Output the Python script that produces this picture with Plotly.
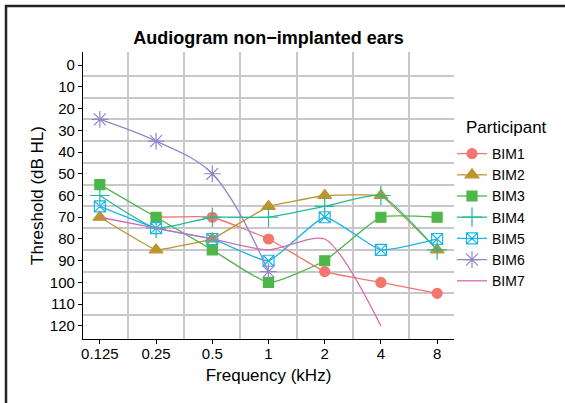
import math
import plotly.graph_objects as go

freqs = [0.125, 0.25, 0.5, 1, 2, 4, 8]
freq_labels = ["0.125", "0.25", "0.5", "1", "2", "4", "8"]
participants = ["BIM1", "BIM2", "BIM3", "BIM4", "BIM5", "BIM6", "BIM7"]

bim1 = [None, 70, 70, 80, 95, 100, 105]
bim2 = [70, 85, 80, 65, 60, 60, 85]
bim3 = [55, 70, 85, 100, 90, 70, 70]
bim4 = [60, 75, 70, 70, 65, 60, 85]
bim5 = [65, 75, 80, 90, 70, 85, 80]
bim6 = [25, 35, 50, 95, None, None, None]
bim7 = [70, 75, 80, 85, 80, 120, None]
series = [bim1, bim2, bim3, bim4, bim5, bim6, bim7]

y_ticks = list(range(0, 121, 10))
y_minor = list(range(5, 116, 10))

colors = ["#F3766E", "#BC962C", "#4DB748", "#22B99A", "#1DB5EA", "#9186C8", "#D06CB6"]
symbols = ["circle", "triangle-up", "square", "cross-thin-open", "square-x-open", "asterisk-open", None]
sizes = [10, 12, 10, 14, 11, 14, 0]
smooth = [0.3, 0.2, 0.45, 0.45, 0.45, 1.0, 0.7]

FONT = "Liberation Sans, Arial, Helvetica, sans-serif"

fig = go.Figure()
for name, ys, c, sym, sz, sm in zip(participants, series, colors, symbols, sizes, smooth):
    if sym is None:
        fig.add_trace(go.Scatter(x=freqs, y=ys, name=name, mode="lines",
                                 line=dict(color=c, width=1.3, shape="spline", smoothing=sm)))
    else:
        fig.add_trace(go.Scatter(x=freqs, y=ys, name=name, mode="lines+markers",
                                 line=dict(color=c, width=1.3, shape="spline", smoothing=sm),
                                 marker=dict(symbol=sym, size=sz, color=c,
                                             line=dict(color=c, width=1.2))))

l2 = math.log10(2)
x_minor = [math.sqrt(freqs[i] * freqs[i + 1]) for i in range(len(freqs) - 1)]

W, H = 565, 403
L, R, T, B = 83, 454, 52, 339

fig.update_layout(
    width=W, height=H,
    margin=dict(l=L, r=W - R, t=T, b=H - B),
    paper_bgcolor="white", plot_bgcolor="white",
    font=dict(family=FONT, color="#000000"),
    title=dict(text="<b>Audiogram non\u2212implanted ears</b>", x=0.5, xref="paper",
               xanchor="center", y=1 - 38 / H, yref="container", yanchor="middle",
               font=dict(size=18, family=FONT, color="#000000")),
    xaxis=dict(type="log", range=[math.log10(0.125) - 0.3 * l2, math.log10(8) + 0.3 * l2],
               tickmode="array", tickvals=freqs, ticktext=freq_labels,
               showgrid=False, zeroline=False, automargin=False,
               showline=True, linecolor="#000000", linewidth=1.2,
               ticks="outside", ticklen=4, tickcolor="#000000", tickwidth=1.2,
               ticklabelstandoff=-3,
               tickfont=dict(size=15, color="#000000"),
               title=dict(text="Frequency (kHz)", font=dict(size=17), standoff=8),
               minor=dict(tickmode="array", tickvals=x_minor, showgrid=True,
                          gridcolor="#C8C8CC", gridwidth=1.5, ticklen=0)),
    yaxis=dict(range=[126, -6], tickmode="array", tickvals=y_ticks,
               showgrid=False, zeroline=False, automargin=False,
               showline=True, linecolor="#000000", linewidth=1.2,
               ticks="outside", ticklen=4, tickcolor="#000000", tickwidth=1.2,
               tickfont=dict(size=15, color="#000000"),
               title=dict(text="Threshold (dB HL)", font=dict(size=17), standoff=1),
               minor=dict(tickmode="array", tickvals=y_minor, showgrid=True,
                          gridcolor="#C8C8CC", gridwidth=1.5, ticklen=0)),
    legend=dict(font=dict(size=14), x=(452 - L) / (R - L), xanchor="left",
                y=1 - (138 - T) / (B - T), yanchor="top", bgcolor="rgba(0,0,0,0)",
                itemwidth=30, tracegroupgap=0),
    showlegend=True,
)

px = lambda p: (p - L) / (R - L)
py = lambda p: 1 - (p - T) / (B - T)

fig.add_annotation(text="Participant", xref="paper", yref="paper", x=px(464), y=py(127),
                   xanchor="left", yanchor="middle", showarrow=False,
                   font=dict(size=17, family=FONT, color="#000000"))

# outer frame (top and left edges visible as in the reference)
fig.add_shape(type="line", xref="paper", yref="paper", x0=px(6), x1=px(6), y0=py(410), y1=py(5),
              line=dict(color="#222222", width=2.5))
fig.add_shape(type="line", xref="paper", yref="paper", x0=px(5), x1=px(575), y0=py(6), y1=py(6),
              line=dict(color="#222222", width=2.5))

fig.write_html("out.html", config={"displayModeBar": False},
               post_script="document.body.style.margin='0';document.body.style.overflow='hidden';")
